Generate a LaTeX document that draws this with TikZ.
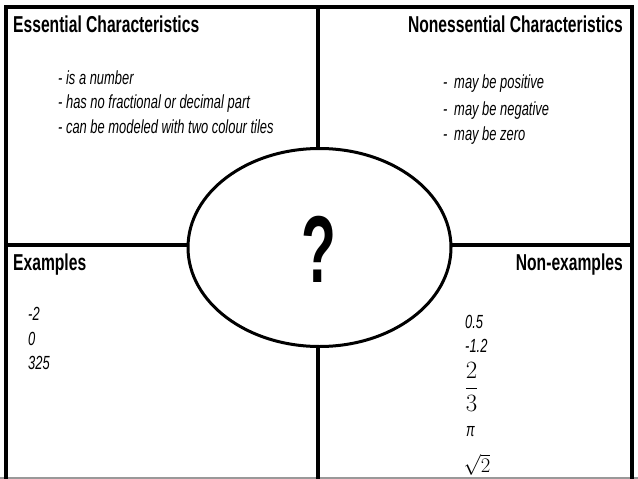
\documentclass[tikz,border=0pt]{standalone}
\usepackage{fontspec}
\usepackage{graphicx}
\usetikzlibrary{shapes.geometric}
\newfontfamily\narrowfont[FakeStretch=0.68]{Liberation Sans}
\newfontfamily\bodyfont[FakeStretch=0.68]{Liberation Sans}
\tikzset{
  frameline/.style={line width=4pt, black},
  titletext/.style={font=\narrowfont\bfseries\fontsize{23}{26}\selectfont, inner sep=0pt},
  bodytext/.style={font=\bodyfont\itshape\fontsize{19}{22}\selectfont, inner sep=0pt},
  mathtext/.style={inner sep=0pt},
}
\begin{document}
\begin{tikzpicture}[x=1pt,y=-1pt]
\useasboundingbox (0,0) rectangle (638,479);
\fill[white] (0,0) rectangle (638,479);
% frame corners
\coordinate (tl) at (5.5,7);
\coordinate (tr) at (632,7);
\coordinate (bl) at (5.5,479);
\coordinate (br) at (632,479);
\coordinate (tm) at (317.5,7);
\coordinate (bm) at (317.5,479);
\coordinate (ml) at (5.5,244.5);
\coordinate (mr) at (632,244.5);
\draw[line width=1.2pt, black!40] (0,478) -- (638,478);
\draw[frameline, line cap=rect] (bl) -- (tl) -- (tr) -- (br);
\draw[frameline] (tm) -- (bm);
\draw[frameline] (ml) -- (mr);
% centre ellipse
\node[ellipse, draw, line width=3pt, fill=white, minimum width=263pt, minimum height=198pt, inner sep=0pt] (ell) at (319.5,247.5) {};
\node[anchor=base, inner sep=0pt] (q) at (319,282) {\scalebox{0.6}[1]{\fontspec{Liberation Sans}\bfseries\fontsize{95}{95}\selectfont ?}};
% titles
\node[titletext, anchor=base west] (ess) at (13,32) {Essential Characteristics};
\node[titletext, anchor=base east] (noness) at (623,32) {Nonessential Characteristics};
\node[titletext, anchor=base west] (ex) at (13,270) {Examples};
\node[titletext, anchor=base east] (nonex) at (623,270) {Non-examples};
% essential
\node[bodytext, anchor=base west] (e1) at (58,84) {- is a number};
\node[bodytext, anchor=base west] (e2) at (58,108) {- has no fractional or decimal part};
\node[bodytext, anchor=base west] (e3) at (58,133) {- can be modeled with two colour tiles};
% nonessential
\node[bodytext, anchor=base west] (n1) at (443,88) {-\, may be positive};
\node[bodytext, anchor=base west] (n2) at (443,115) {-\, may be negative};
\node[bodytext, anchor=base west] (n3) at (443,140) {-\, may be zero};
% examples
\node[bodytext, anchor=base west] (x1) at (28,320) {-2};
\node[bodytext, anchor=base west] (x2) at (28,345) {0};
\node[bodytext, anchor=base west] (x3) at (28,369) {325};
% non-examples
\node[bodytext, anchor=base west] (y1) at (465,328) {0.5};
\node[bodytext, anchor=base west] (y2) at (465,352) {-1.2};
\node[mathtext] (y3) at (471.5,387) {\fontsize{26}{26}\selectfont\(\displaystyle\frac{2}{3}\)};
\node[bodytext, anchor=base west] (y4) at (466,436) {π};
\node[mathtext] (y5) at (477,465) {\fontsize{21}{24}\selectfont\(\sqrt{2}\)};
\end{tikzpicture}
\end{document}
